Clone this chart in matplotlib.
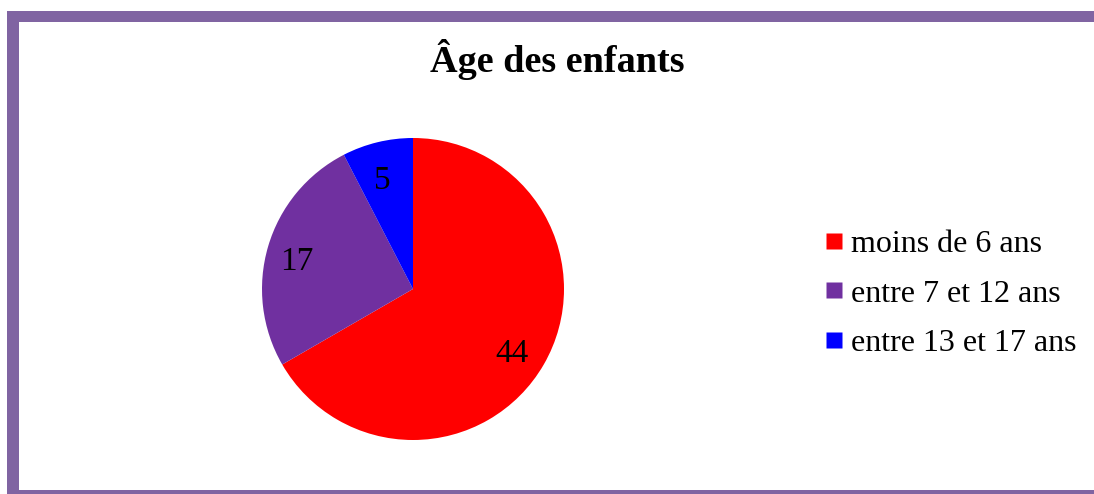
import matplotlib.pyplot as plt
from matplotlib.patches import Rectangle
from matplotlib.lines import Line2D

categories = ["moins de 6 ans", "entre 7 et 12 ans", "entre 13 et 17 ans"]
values = [44, 17, 5]
colors = ["#FF0000", "#7030A0", "#0000FF"]
border_color = "#8064A2"

plt.rcParams["font.family"] = ["Liberation Serif", "DejaVu Serif"]

W, H = 1094, 494
fig = plt.figure(figsize=(W / 100, H / 100), dpi=100)


def px_rect(x0, y0, x1, y1):
    # pixel box (top-left origin) -> figure-fraction rectangle
    return Rectangle((x0 / W, 1 - y1 / H), (x1 - x0) / W, (y1 - y0) / H,
                     transform=fig.transFigure, facecolor=border_color,
                     edgecolor="none", zorder=0)


fig.patches.append(px_rect(7, 11, W, 22))
fig.patches.append(px_rect(7, 11, 19, H))
fig.patches.append(px_rect(7, 490, W, H))

fig.text(557 / W, 1 - 60 / H, "Âge des enfants", ha="center", va="center",
         fontsize=27.5, fontweight="bold")

ax = fig.add_axes([262 / W, 1 - 440 / H, 302 / W, 302 / H])
total = sum(values)
wedges, texts, autotexts = ax.pie(
    values,
    colors=colors,
    startangle=90,
    counterclock=False,
    radius=1,
    autopct=lambda p: f"{round(p * total / 100)}",
    pctdistance=0.78,
    textprops={"fontsize": 24, "color": "black"},
    wedgeprops={"linewidth": 0},
)
# nudge labels down slightly, like the original layout
for t in autotexts:
    x, y = t.get_position()
    t.set_position((x - 0.02, y - 0.04))
ax.set_xlim(-1, 1)
ax.set_ylim(-1, 1)

handles = [Line2D([], [], marker="s", linestyle="none", markersize=11.5,
                  markerfacecolor=c, markeredgecolor="none") for c in colors]
fig.legend(handles, categories, loc="center left",
           bbox_to_anchor=(824 / W, 1 - 294 / H), frameon=False,
           fontsize=23, handlelength=0.6, handletextpad=0.25,
           labelspacing=0.64, borderpad=0, borderaxespad=0)

fig.savefig("out.png", dpi=100)
